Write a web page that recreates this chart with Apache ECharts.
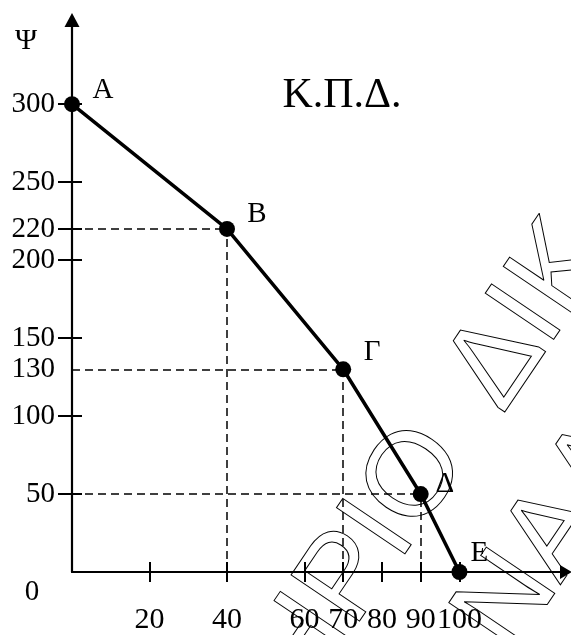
<!DOCTYPE html>
<head>
    <meta charset="utf-8">
    <title>ECharts</title>
</head>
<body style="margin:0">
    <div id="main" style="width:571px;height:635px"></div>
    <script src="https://cdn.jsdelivr.net/npm/echarts@6/dist/echarts.min.js"></script>
    <script type="text/javascript">
var myChart = echarts.init(document.getElementById('main'));

// σημεία της Κ.Π.Δ.
var pointNames = ['A', 'B', 'Γ', 'Δ', 'E'];
var xValues = [0, 40, 70, 90, 100];
var yValues = [300, 220, 130, 50, 0];
// σημεία με διακεκομμένες γραμμές προς τους άξονες
var guideIndex = [1, 2, 3];

var xTickValues = [20, 40, 60, 70, 80, 90, 100];
var xLabelValues = [20, 40, 60, 70, 80, 90, 100];
var yTickValues = [50, 100, 150, 200, 220, 250, 300];
var yLabelValues = [50, 100, 130, 150, 200, 220, 250, 300];

var serif = 'Liberation Serif';
var labelOffsets = [[31, -14], [30, -15], [29, -17], [24, -10], [20, -19]];

var guides = [];
guideIndex.forEach(function (i) {
    guides.push([{coord: [0, yValues[i]]}, {coord: [xValues[i], yValues[i]]}]);
    guides.push([{coord: [xValues[i], 0]}, {coord: [xValues[i], yValues[i]]}]);
});

var points = xValues.map(function (x, i) {
    return {
        value: [x, yValues[i]],
        name: pointNames[i],
        label: {offset: labelOffsets[i]}
    };
});

function outerAxis(min, max, ticks, labels, extra) {
    return Object.assign({
        type: 'value', min: min, max: max,
        axisLine: {show: true, lineStyle: {color: '#000', width: 2.2}},
        axisTick: {show: true, customValues: ticks, length: 12, lineStyle: {color: '#000', width: 2}},
        axisLabel: {customValues: labels, color: '#000', fontFamily: serif, fontSize: 29},
        splitLine: {show: false}
    }, extra);
}
function innerAxis(min, max, ticks, extra) {
    return Object.assign({
        type: 'value', min: min, max: max,
        axisLine: {show: false},
        axisTick: {show: true, inside: true, customValues: ticks, length: 10, lineStyle: {color: '#000', width: 2}},
        axisLabel: {show: false},
        splitLine: {show: false}
    }, extra);
}

var xMax = 128.5, yMax = 358;

var xOuter = outerAxis(0, xMax, xTickValues, xLabelValues, {position: 'bottom'});
xOuter.axisLine.symbol = ['none', 'triangle'];
xOuter.axisLine.symbolSize = [14, 12];
xOuter.axisTick.length = 10;
xOuter.axisLabel.margin = 33;
xOuter.axisLabel.fontSize = 30;

var yOuter = outerAxis(0, yMax, yTickValues, yLabelValues, {position: 'left'});
yOuter.axisLine.symbol = ['none', 'triangle'];
yOuter.axisLine.symbolSize = [15, 14];
yOuter.axisTick.length = 14;
yOuter.axisLabel.margin = 17;

var wmStyle = {fill: 'transparent', stroke: '#000', lineWidth: 1,
    fontFamily: 'Liberation Sans', fontSize: 120, verticalAlign: 'bottom'};
var wmRot = 56 * Math.PI / 180;

option = {
    animation: false,
    grid: {left: 72, right: 5, top: 20, bottom: 63},
    xAxis: [xOuter, innerAxis(0, 127.5, xTickValues, {position: 'bottom'})],
    yAxis: [yOuter, innerAxis(0, 354, yTickValues, {position: 'left'})],
    graphic: [
        {type: 'text', x: 492, y: 473, rotation: wmRot, z: -10, silent: true,
            style: Object.assign({text: 'ΣΤΗΡΙΟ', align: 'right'}, wmStyle)},
        {type: 'text', x: 525, y: 430, rotation: wmRot, z: -10, silent: true,
            style: Object.assign({text: 'ΔΙΚ', align: 'left'}, wmStyle)},
        {type: 'text', x: 534, y: 672, rotation: wmRot, z: -10, silent: true,
            style: Object.assign({text: 'ΝΑΛ', align: 'left'}, wmStyle)},
        {type: 'text', x: 26, y: 41, style: {text: 'Ψ', fontFamily: serif, fontSize: 30, fill: '#000', align: 'center', verticalAlign: 'middle'}},
        {type: 'text', x: 32, y: 592, style: {text: '0', fontFamily: serif, fontSize: 29, fill: '#000', align: 'center', verticalAlign: 'middle'}},
        {type: 'text', x: 342, y: 96, style: {text: 'Κ.Π.Δ.', fontFamily: serif, fontSize: 42, fill: '#000', align: 'center', verticalAlign: 'middle'}}
    ],
    series: [{
        type: 'line',
        data: points,
        xAxisIndex: 0,
        yAxisIndex: 0,
        symbol: 'circle',
        symbolSize: 16,
        z: 5,
        lineStyle: {color: '#000', width: 3.5},
        itemStyle: {color: '#000'},
        label: {
            show: true,
            position: 'inside',
            formatter: '{b}',
            color: '#000',
            fontFamily: serif,
            fontSize: 29
        },
        markLine: {
            silent: true,
            symbol: ['none', 'none'],
            label: {show: false},
            lineStyle: {color: '#000', type: [8, 5], width: 1.5},
            data: guides
        }
    }]
};
xOuter.max = 127.5;
yOuter.max = 354;
myChart.setOption(option);
    </script>
</body>
